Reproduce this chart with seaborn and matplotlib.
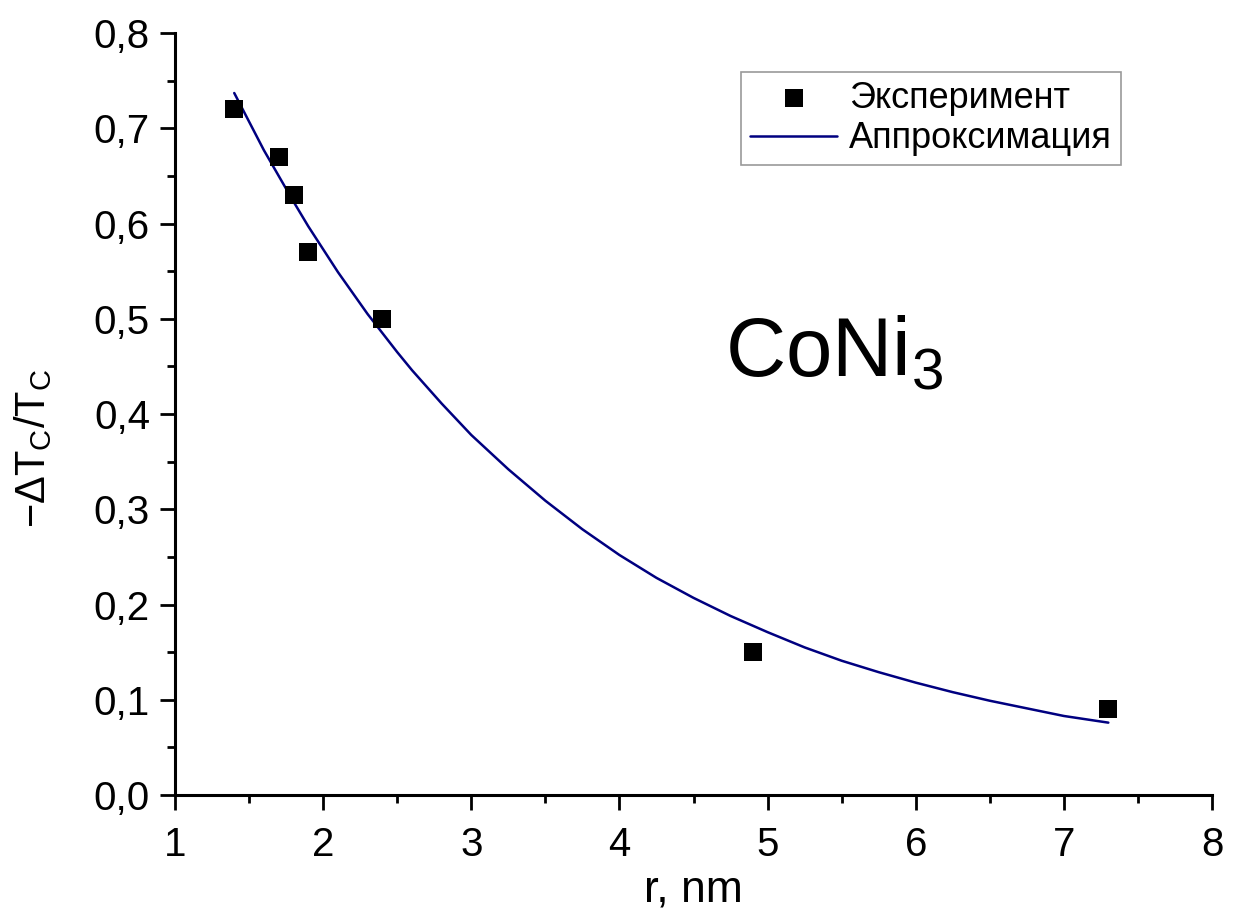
import matplotlib
matplotlib.use("Agg")
import matplotlib.pyplot as plt
import seaborn as sns
import pandas as pd
from matplotlib.ticker import MultipleLocator, FuncFormatter

# experimental points
r_exp = [1.4, 1.7, 1.8, 1.9, 2.4, 4.9, 7.3]
dt_exp = [0.72, 0.67, 0.63, 0.57, 0.50, 0.15, 0.09]

# approximation curve
r_fit = [1.4, 1.5, 1.6, 1.7, 1.8, 1.9, 2.0, 2.1, 2.2, 2.3, 2.4, 2.5, 2.6, 2.8, 3.0,
         3.25, 3.5, 3.75, 4.0, 4.25, 4.5, 4.75, 5.0, 5.25, 5.5, 5.75, 6.0, 6.25,
         6.5, 6.75, 7.0, 7.3]
dt_fit = [0.737, 0.707, 0.677, 0.650, 0.623, 0.597, 0.573, 0.549, 0.527, 0.505,
          0.485, 0.465, 0.446, 0.411, 0.378, 0.342, 0.309, 0.279, 0.252, 0.228,
          0.207, 0.188, 0.171, 0.155, 0.141, 0.129, 0.118, 0.108, 0.099, 0.091,
          0.083, 0.076]

sns.set_style("ticks")
plt.rcParams["font.family"] = ["Liberation Sans", "DejaVu Sans"]
plt.rcParams["mathtext.fontset"] = "custom"
plt.rcParams["mathtext.rm"] = "Liberation Sans"
plt.rcParams["mathtext.it"] = "Liberation Sans"
for k in ["text.color", "axes.labelcolor", "xtick.color", "ytick.color", "axes.edgecolor"]:
    plt.rcParams[k] = "black"

df_exp = pd.DataFrame({"r": r_exp, "dt": dt_exp})
df_fit = pd.DataFrame({"r": r_fit, "dt": dt_fit})

fig = plt.figure(figsize=(12.34, 9.17), dpi=100)
ax = fig.add_axes([0.1418, 0.133, 0.8404, 0.831])

sns.lineplot(data=df_fit, x="r", y="dt", color="#000080", linewidth=1.8,
             label="Аппроксимация", ax=ax, zorder=2)
sns.scatterplot(data=df_exp, x="r", y="dt", marker="s", s=160, color="black",
                linewidth=0, label="Эксперимент", ax=ax, zorder=3)

ax.set_xlim(1, 8)
ax.set_ylim(0, 0.8)
ax.xaxis.set_major_locator(MultipleLocator(1))
ax.xaxis.set_minor_locator(MultipleLocator(0.5))
ax.yaxis.set_major_locator(MultipleLocator(0.1))
ax.yaxis.set_minor_locator(MultipleLocator(0.05))
ax.yaxis.set_major_formatter(FuncFormatter(lambda v, p: f"{v:.1f}".replace(".", ",")))

for s in ["top", "right"]:
    ax.spines[s].set_visible(False)
for s in ["left", "bottom"]:
    ax.spines[s].set_linewidth(2.2)

ax.tick_params(which="major", length=11, width=2, labelsize=29)
ax.tick_params(which="minor", length=5.5, width=2)
ax.tick_params(axis="x", which="major", pad=11)
ax.tick_params(axis="y", which="major", pad=7)

ax.set_xlabel("r, nm", fontsize=32)
ax.xaxis.set_label_coords(0.5, -0.098)
ax.set_ylabel(r"$-\Delta\mathrm{T}_\mathrm{C}/\mathrm{T}_\mathrm{C}$", fontsize=30)
ax.yaxis.set_label_coords(-0.117, 0.455)

ax.text(0.53, 0.55, r"CoNi$_3$", transform=ax.transAxes, fontsize=60, ha="left", va="baseline")

handles, labels = ax.get_legend_handles_labels()
order = [labels.index("Эксперимент"), labels.index("Аппроксимация")]
leg = ax.legend([handles[i] for i in order], [labels[i] for i in order],
                loc="upper left", bbox_to_anchor=(0.546, 0.949), borderaxespad=0,
                fontsize=26, frameon=True, fancybox=False, edgecolor="#808080",
                handlelength=2.4, handletextpad=0.33, borderpad=0.25, labelspacing=0.15)
leg.get_frame().set_linewidth(1.2)

fig.savefig("out.png", dpi=100)
